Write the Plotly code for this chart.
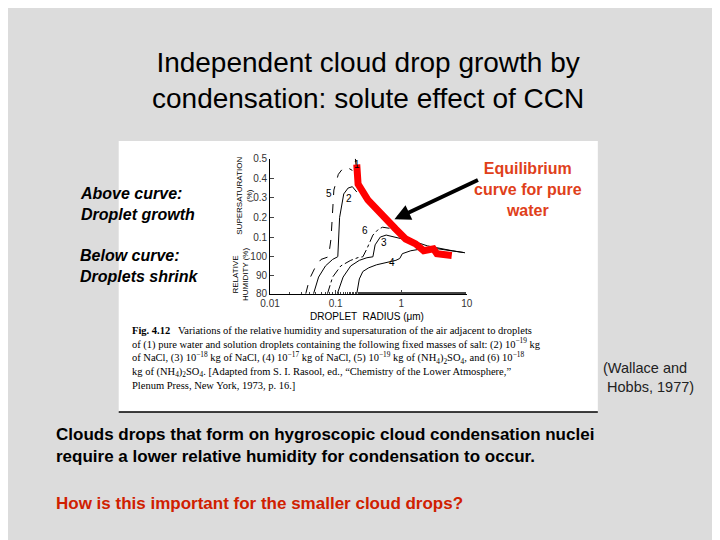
import plotly.graph_objects as go

# Supersaturation (%) data; negative values = RH-100 (relative humidity below 100%)
r1 = [0.20, 0.22, 0.31, 0.42, 0.59, 0.83, 1.17, 1.66, 2.5, 4.0, 6.0, 9.3]
s1 = [0.50, 0.37, 0.29, 0.24, 0.19, 0.14, 0.10, 0.075, 0.055, 0.04, 0.03, 0.02]
r_red = [0.21, 0.22, 0.31, 0.42, 0.59, 0.83, 1.17, 1.66, 2.2, 3.1, 3.5, 5.9]
s_red = [0.47, 0.37, 0.29, 0.24, 0.19, 0.14, 0.09, 0.065, 0.03, 0.04, 0.015, 0.006]
r5 = [0.035, 0.04, 0.05, 0.06, 0.075, 0.078, 0.085, 0.094, 0.11, 0.133, 0.16, 0.18]
s5 = [-20, -12, -5, -1.5, -0.3, 0.0, 0.09, 0.34, 0.42, 0.456, 0.45, 0.44]
r2 = [0.046, 0.055, 0.07, 0.09, 0.106, 0.108, 0.115, 0.133, 0.155, 0.18, 0.21]
s2 = [-20, -11, -5, -1.5, -0.2, 0.0, 0.2, 0.32, 0.35, 0.357, 0.33]
r6 = [0.075, 0.09, 0.12, 0.17, 0.22, 0.26, 0.30, 0.37, 0.45, 0.52, 0.65, 0.83]
s6 = [-20, -11, -5, -2, -0.5, -0.1, 0.04, 0.11, 0.14, 0.15, 0.145, 0.13]
r3 = [0.106, 0.13, 0.17, 0.23, 0.30, 0.37, 0.40, 0.48, 0.59, 0.8, 1.05]
s3 = [-20, -11, -5, -2, -0.6, -0.1, 0.06, 0.10, 0.11, 0.10, 0.09]
r4 = [0.21, 0.23, 0.26, 0.32, 0.42, 0.6, 0.83, 0.95, 1.04, 1.4, 2.1, 3.6, 6.0, 9.3]
s4 = [-20, -12, -8, -6, -4.4, -3.0, -2.0, -1.0, 0.015, 0.03, 0.04, 0.04, 0.03, 0.02]

ytick_vals_s = [0.1, 0.2, 0.3, 0.4, 0.5]
ytick_vals_rh = [80, 90, 100]
xtick_vals = [0.01, 0.1, 1, 10]

def comp(v):
    return [x * 200 if x >= 0 else x * 1.9 for x in v]

fig = go.Figure()
blk = dict(color="black", width=1)
fig.add_trace(go.Scatter(x=r1, y=comp(s1), mode="lines", line=blk))
fig.add_trace(go.Scatter(x=r5, y=comp(s5), mode="lines", line=dict(color="black", width=1, dash="dash")))
fig.add_trace(go.Scatter(x=r2, y=comp(s2), mode="lines", line=blk))
fig.add_trace(go.Scatter(x=r6, y=comp(s6), mode="lines", line=dict(color="black", width=1, dash="dashdot")))
fig.add_trace(go.Scatter(x=r3, y=comp(s3), mode="lines", line=blk))
fig.add_trace(go.Scatter(x=r4, y=comp(s4), mode="lines", line=blk))
fig.add_trace(go.Scatter(x=r_red, y=comp(s_red), mode="lines", line=dict(color="#ff0000", width=7)))

tickvals = comp([r - 100 for r in ytick_vals_rh]) + comp(ytick_vals_s)
ticktext = [str(v) for v in ytick_vals_rh] + [str(v) for v in ytick_vals_s]

fig.update_layout(
    width=720, height=540, showlegend=False,
    paper_bgcolor="#dcdcdc", plot_bgcolor="white",
    margin=dict(l=0, r=0, t=0, b=0),
    xaxis=dict(type="log", range=[-2, 1], domain=[0.358, 0.6375],
               tickvals=xtick_vals, ticktext=["0.01", "0.1", "1", "10"],
               showgrid=False, zeroline=False, showline=True, linecolor="black",
               ticks="inside", ticklen=4, tickfont=dict(size=10, family="Liberation Sans", color="#333"),
               minor=dict(ticks="inside", ticklen=2, showgrid=False)),
    yaxis=dict(range=[-38, 100], domain=[0.470, 0.726],
               tickvals=tickvals, ticktext=ticktext, showgrid=False, zeroline=False,
               showline=True, linecolor="black", ticks="inside", ticklen=4,
               tickfont=dict(size=10, family="Liberation Sans", color="#333")),
    shapes=[dict(type="rect", xref="paper", yref="paper", x0=103/720, x1=593/720,
                 y0=1-407/540, y1=1-130/540, fillcolor="white", line=dict(width=0), layer="below"),
            dict(type="line", xref="paper", yref="paper", x0=103/720, x1=593/720,
                 y0=1-407/540, y1=1-407/540, line=dict(color="black", width=1.5))],
)

def ann(text, x, y, size, color="black", bold=False, italic=False, family="Liberation Sans",
        xanchor="left", align="left", angle=0):
    if bold:
        text = "<b>" + text + "</b>"
    if italic:
        text = "<i>" + text + "</i>"
    fig.add_annotation(text=text, x=x/720, y=1-y/540, xref="paper", yref="paper",
                       showarrow=False, font=dict(size=size, color=color, family=family),
                       xanchor=xanchor, yanchor="middle", align=align, textangle=angle)

ann("Independent cloud drop growth by<br>condensation: solute effect of CCN", 358, 68, 28,
    xanchor="center", align="center")
ann("Above curve:<br>Droplet growth", 61, 194, 16, bold=True, italic=True)
ann("Below curve:<br>Droplets shrink", 61, 258, 16, bold=True, italic=True)
ann("Equilibrium<br>curve for pure<br>water", 522, 180, 16, color="#e0401a", bold=True,
    xanchor="center", align="center")
ann("SUPERSATURATION<br>(%)", 232, 186, 8, angle=-90, xanchor="center", align="center")
ann("RELATIVE<br>HUMIDITY (%)", 227, 266, 8, angle=-90, xanchor="center", align="center")
ann("DROPLET  RADIUS (\u03bcm)", 357, 309, 10, xanchor="center")
for t, x, y in [("5", 318, 184), ("2", 339, 189), ("6", 355, 221), ("3", 374, 234), ("4", 382, 254), ("1", 347, 154)]:
    ann(t, x, y, 10, xanchor="center", align="center")
ann("<b>Fig. 4.12</b>   Variations of the relative humidity and supersaturation of the air adjacent to droplets<br>"
    "of (1) pure water and solution droplets containing the following fixed masses of salt: (2) 10<sup>\u221219</sup> kg<br>"
    "of NaCl, (3) 10<sup>\u221218</sup> kg of NaCl, (4) 10<sup>\u221217</sup> kg of NaCl, (5) 10<sup>\u221219</sup> kg of (NH<sub>4</sub>)<sub>2</sub>SO<sub>4</sub>, and (6) 10<sup>\u221218</sup><br>"
    "kg of (NH<sub>4</sub>)<sub>2</sub>SO<sub>4</sub>. [Adapted from S. I. Rasool, ed., \u201cChemistry of the Lower Atmosphere,\u201d<br>"
    "Plenum Press, New York, 1973, p. 16.]", 115, 352, 10.5, family="Liberation Serif")
ann("(Wallace and<br> Hobbs, 1977)", 596, 372, 14.5, color="#222")
ann("Clouds drops that form on hygroscopic cloud condensation nuclei<br>require a lower relative humidity for condensation to occur.",
    37, 441, 17, bold=True)
ann("How is this important for the smaller cloud drops?", 37, 501, 17, color="#d02000", bold=True)

fig.add_annotation(x=385/720, y=1-210/540, ax=85, ay=-40, xref="paper", yref="paper",
                   axref="pixel", ayref="pixel", showarrow=True, arrowhead=2, arrowsize=0.8,
                   arrowwidth=4, arrowcolor="black", text="")

fig.write_html("out.html")
